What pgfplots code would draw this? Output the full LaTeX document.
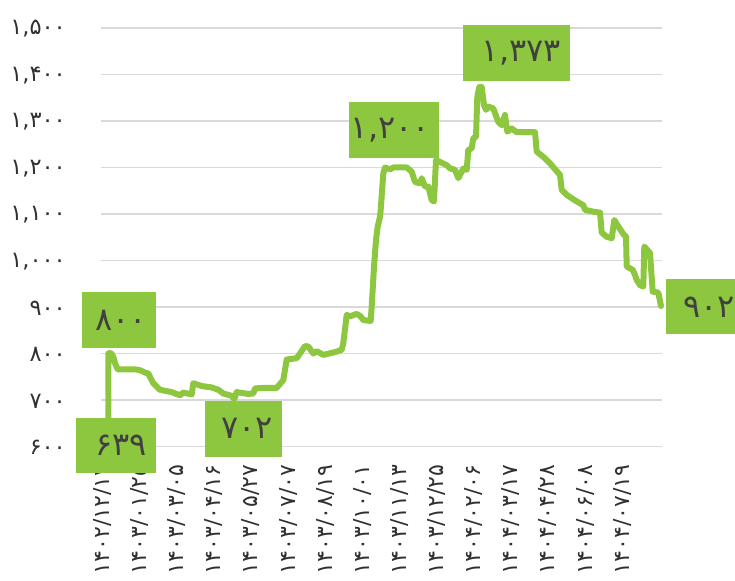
\documentclass[border=0pt]{standalone}
\usepackage{pgfplots}
\pgfplotsset{compat=1.18}
\usepackage{fontspec}
\setmainfont{DejaVu Sans}
\newfontfamily\fa{DejaVu Sans}
\definecolor{lg}{HTML}{8DC63F}
\definecolor{txt}{HTML}{404040}
\definecolor{tick}{HTML}{303030}
\definecolor{gridc}{HTML}{D9D9D9}
\begin{document}
\begin{tikzpicture}
\begin{axis}[
  scale only axis, width=561pt, height=418.5pt,
  xmin=101, xmax=662, ymin=600, ymax=1500,
  clip=false,
  axis line style={draw=none},
  major tick length=0pt,
  ymajorgrids, grid style={gridc, line width=1.3pt},
  ytick={600,700,...,1500},
  yticklabels={۶۰۰,۷۰۰,۸۰۰,۹۰۰,{۱,۰۰۰},{۱,۱۰۰},{۱,۲۰۰},{۱,۳۰۰},{۱,۴۰۰},{۱,۵۰۰}},
  yticklabel style={font=\fa\fontsize{22.5}{22.5}\selectfont, text=tick, anchor=east, inner sep=0pt, yshift=-1pt},
  yticklabel shift=35pt,
  xtick={102.3,139.44,176.58,213.72,250.86,288.0,325.14,362.28,399.42,436.56,473.7,510.84,547.98,585.12,622.26},
  xticklabels={۱۴۰۲/۱۲/۱۲,۱۴۰۳/۰۱/۲۵,۱۴۰۳/۰۳/۰۵,۱۴۰۳/۰۴/۱۶,۱۴۰۳/۰۵/۲۷,۱۴۰۳/۰۷/۰۷,۱۴۰۳/۰۸/۱۹,۱۴۰۳/۱۰/۰۱,۱۴۰۳/۱۱/۱۳,۱۴۰۳/۱۲/۲۵,۱۴۰۴/۰۲/۰۶,۱۴۰۴/۰۳/۱۷,۱۴۰۴/۰۴/۲۸,۱۴۰۴/۰۶/۰۸,۱۴۰۴/۰۷/۱۹},
  xticklabel style={font=\fa\fontsize{22}{22}\selectfont, text=tick, rotate=90, anchor=east, inner sep=0pt},
  xticklabel shift=18pt,
]
\addplot[lg, line width=6pt, line join=round, line cap=round] coordinates {
(108.3,639) (108.3,800) (111,801) (113.3,793) (115,779) (117.7,766) (135,766) (140,764) (145,759) (148.3,757)
(153.3,736) (160,722) (171.7,717) (180,710) (183.3,716) (191.7,712) (193.3,736) (201.7,730) (211.7,727)
(218.3,722) (223.3,714) (231.7,709) (234.3,702) (236.7,717) (248.3,713) (253.3,714) (255,725) (265,726)
(276.7,726) (283.3,743) (286.7,787) (296.7,790) (300,800) (305,816) (308.3,815) (313.3,800) (316.7,805)
(323.3,797) (336.7,804) (341.7,808) (343.3,822) (346.7,883) (350,880) (356.7,885) (360,881) (363.3,872)
(370.7,870) (371.7,901) (374,987) (376,1044) (377.7,1073) (380,1094) (380.7,1109) (383.3,1187) (385,1200)
(390,1196) (393.3,1200) (406.7,1200) (411.7,1191) (415,1169) (420,1166) (421.7,1177) (425,1159) (428.3,1159)
(431.7,1130) (434,1127) (436,1216) (440,1212) (446.7,1205) (450,1198) (455,1195) (458.3,1177) (461.7,1191)
(463.3,1198) (466.7,1195) (468.3,1238) (471.7,1241) (473.3,1263) (476,1266) (477.3,1352) (479.3,1373)
(481.7,1373) (484,1334) (486,1324) (488.3,1331) (493.3,1327) (498.3,1298) (501.7,1291) (505,1313)
(507.3,1277) (511.7,1284) (516.7,1276) (535,1276) (536.7,1234) (543.3,1223) (550,1209) (560,1184)
(561.7,1152) (566.7,1141) (576.7,1127) (583.3,1119) (585,1109) (593.3,1105) (600,1103) (601.7,1060)
(606.7,1051) (611.7,1048) (614.3,1087) (618.3,1073) (624,1055) (626,1052) (626.7,987) (632.7,980)
(635,969) (636.7,958) (640,947) (643.3,944) (644.3,1030) (650,1016) (652.7,933) (658.3,931) (661,902)
};
% annotation boxes
\fill[lg] (axis cs:82,931.6) rectangle (axis cs:156,812.5);
\node[anchor=east, inner sep=0pt, text=txt, font=\fa\fontsize{32}{32}\selectfont] at (axis cs:147,872) {۸۰۰};
\fill[lg] (axis cs:76,662) rectangle (axis cs:156,542.4);
\node[anchor=east, inner sep=0pt, text=txt, font=\fa\fontsize{32}{32}\selectfont] at (axis cs:147,602) {۶۳۹};
\fill[lg] (axis cs:205,698) rectangle (axis cs:282,578);
\node[anchor=east, inner sep=0pt, text=txt, font=\fa\fontsize{32}{32}\selectfont] at (axis cs:273,638) {۷۰۲};
\fill[lg] (axis cs:349,1340.2) rectangle (axis cs:439,1221.1);
\node[anchor=east, inner sep=0pt, text=txt, font=\fa\fontsize{32}{32}\selectfont] at (axis cs:430,1280.6) {۱,۲۰۰};
\fill[lg] (axis cs:463,1506.5) rectangle (axis cs:570,1386.7);
\node[anchor=east, inner sep=0pt, text=txt, font=\fa\fontsize{32}{32}\selectfont] at (axis cs:561,1446.6) {۱,۳۷۳};
\fill[lg] (axis cs:666,960.2) rectangle (axis cs:744,840.9);
\node[anchor=east, inner sep=0pt, text=txt, font=\fa\fontsize{32}{32}\selectfont] at (axis cs:735,900.5) {۹۰۲};
\end{axis}
\pgfresetboundingbox
\path[use as bounding box] (-101pt,-133.5pt) rectangle (634pt,446.5pt);
\end{tikzpicture}
\end{document}
